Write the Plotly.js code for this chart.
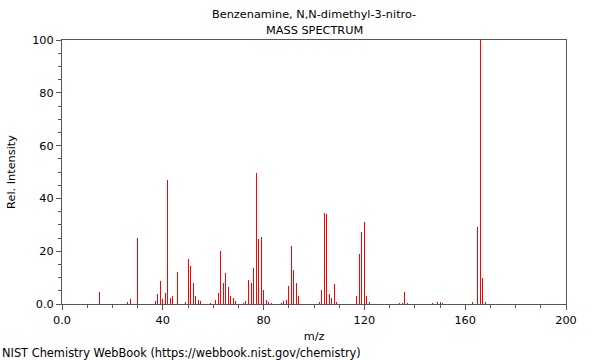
<!DOCTYPE html>
<html>
<head>
<meta charset="utf-8">
<script src="https://cdn.plot.ly/plotly-3.0.1.min.js"></script>
<style>html,body{margin:0;padding:0;background:#fff;}#chart{width:600px;height:360px;}</style>
</head>
<body>
<div id="chart"></div>
<script>
const mz = [15,26,27,30,37,38,39,40,41,42,43,44,46,49,50,51,52,53,54,55,59,61,62,63,64,65,66,67,68,69,
  72,73,74,75,76,77,78,79,80,81,82,83,87,88,89,90,91,92,93,94,102,103,104,105,106,107,108,109,
  117,118,119,120,121,122,134,135,136,137,147,149,150,151,163,165,166,167,168];
const intensity = [4.4,0.6,1.9,25,1.3,3.7,8.8,1.8,4.0,47,2.4,3.2,12.2,0.8,17,14.5,8,3,1.4,1,0.4,1.5,4.1,20.2,7.8,11.7,6.3,3.2,2.3,1.3,
  0.5,1.3,9.2,8,13.5,49.7,24.7,25.5,5.4,1.5,0.8,0.5,0.5,1.0,1.6,6.9,22,13,8.1,2.9,0.9,5.4,34.6,34.1,3.9,2.1,7.7,0.6,
  2.9,18.8,27.4,31.2,3.2,0.6,0.5,0.5,4.4,0.5,0.2,0.9,0.9,0.3,0.7,29,100,9.7,0.6];
const xTickVals = [0,40,80,120,160,200];
const xTickText = ["0.0","40","80","120","160","200"];
const yTickVals = [0,20,40,60,80,100];
const yTickText = ["0.0","20","40","60","80","100"];
const titleLine1 = "Benzenamine, N,N-dimethyl-3-nitro-";
const titleLine2 = "MASS SPECTRUM";
const footerText = "NIST Chemistry WebBook (https://webbook.nist.gov/chemistry)";

const font = "DejaVu Sans, sans-serif";
const trace = {
  type: 'bar', x: mz, y: intensity, width: 0.4,
  marker: {color: '#ff0000', line: {width: 0}},
  hoverinfo: 'x+y'
};
const axisCommon = {
  showline: true, mirror: true, linecolor: '#555', linewidth: 1,
  showgrid: false, zeroline: false, ticks: 'outside', ticklen: 5, tickcolor: '#555',
  tickfont: {family: font, size: 11.3, color: '#000'}, automargin: false, fixedrange: true
};
const plotW = 504, plotH = 264;
const layout = {
  width: 600, height: 360,
  margin: {l: 62, r: 34, t: 40, b: 56},
  paper_bgcolor: '#fff', plot_bgcolor: '#fff',
  showlegend: false, bargap: 0,
  font: {family: font, size: 11, color: '#000'},
  xaxis: Object.assign({}, axisCommon, {
    range: [0, 200], tickmode: 'array', tickvals: xTickVals, ticktext: xTickText,
    minor: {dtick: 10, tick0: 0, ticks: 'outside', ticklen: 3, tickcolor: '#555'},
    title: {text: 'm/z', font: {family: font, size: 11.3, color: '#000'}, standoff: 6}
  }),
  yaxis: Object.assign({}, axisCommon, {
    range: [0, 100], tickmode: 'array', tickvals: yTickVals, ticktext: yTickText,
    minor: {dtick: 5, tick0: 0, ticks: 'outside', ticklen: 3, tickcolor: '#555'},
    title: {text: 'Rel. Intensity', font: {family: font, size: 11.3, color: '#000'}, standoff: 14}
  }),
  annotations: [
    {text: titleLine1, xref: 'paper', yref: 'paper', x: 0.5, y: (304 - 14) / plotH,
     xanchor: 'center', yanchor: 'middle', showarrow: false, font: {family: font, size: 11.3, color: '#000'}},
    {text: titleLine2, xref: 'paper', yref: 'paper', x: 0.5, y: (304 - 30) / plotH,
     xanchor: 'center', yanchor: 'middle', showarrow: false, font: {family: font, size: 11.3, color: '#000'}},
    {text: footerText, xref: 'paper', yref: 'paper',
     x: (0 - 62) / plotW, y: (304 - 353) / plotH, xanchor: 'left', yanchor: 'middle',
     showarrow: false, font: {family: font, size: 11.4, color: '#000'}}
  ]
};
Plotly.newPlot('chart', [trace], layout, {displayModeBar: false, staticPlot: true});
</script>
</body>
</html>
